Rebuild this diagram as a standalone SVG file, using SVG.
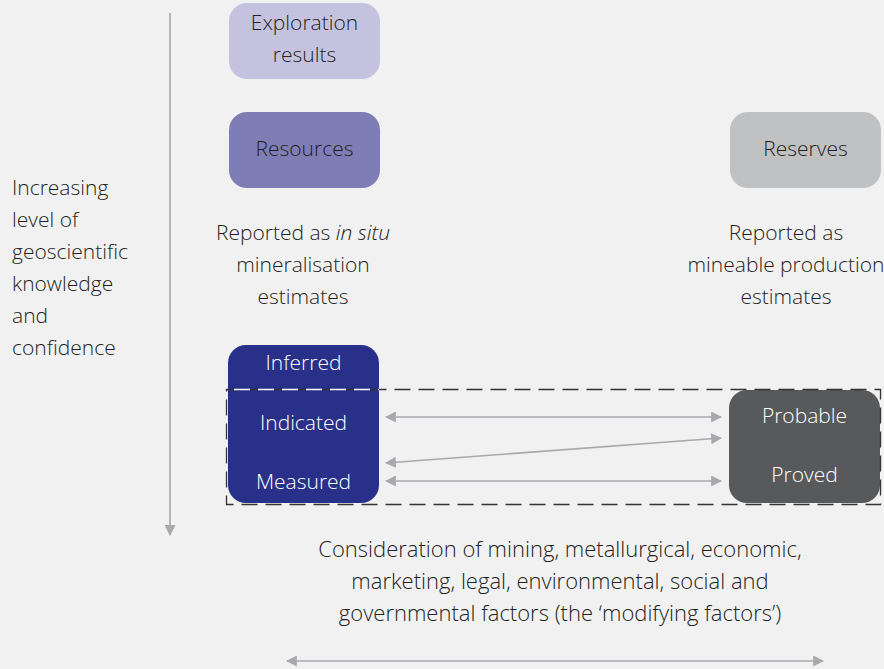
<svg xmlns="http://www.w3.org/2000/svg" width="884" height="669" viewBox="0 0 884 669">
<defs>
<style>
text{font-family:"Open Sans","Liberation Sans",sans-serif;font-weight:300;font-size:21px;fill:#231f20}
.c{text-anchor:middle}
.w{fill:#ffffff}
.b{font-size:22px}
.ln{stroke:#a7a9ac;stroke-width:1.6;fill:none}
</style>
<marker id="ah" viewBox="0 0 10 10" refX="9" refY="5" markerWidth="11" markerHeight="11" markerUnits="userSpaceOnUse" orient="auto-start-reverse">
<path d="M0,0 L10,5 L0,10 z" fill="#a7a9ac"/>
</marker>
</defs>
<rect x="0" y="0" width="884" height="669" fill="#f1f1f1"/>
<g id="axis">
<line class="ln" x1="170" y1="13" x2="170" y2="535" marker-end="url(#ah)"/>
<text x="12" y="195">Increasing</text>
<text x="12" y="227">level of</text>
<text x="12" y="259">geoscientific</text>
<text x="12" y="291">knowledge</text>
<text x="12" y="323">and</text>
<text x="12" y="355">confidence</text>
</g>
<g id="exploration">
<rect x="229" y="3" width="151" height="76" rx="18" fill="#c5c2e0"/>
<text class="c" x="304.5" y="30">Exploration</text>
<text class="c" x="304.5" y="62">results</text>
</g>
<g id="resources">
<rect x="229" y="112" width="151" height="76" rx="18" fill="#7f7db5"/>
<text class="c" x="304.5" y="156">Resources</text>
</g>
<g id="reserves">
<rect x="730" y="112" width="151" height="76" rx="18" fill="#c0c1c3"/>
<text class="c" x="805.5" y="156">Reserves</text>
</g>
<g id="resources-note">
<text class="c" x="303" y="240">Reported as <tspan font-style="italic">in situ</tspan></text>
<text class="c" x="303" y="272">mineralisation</text>
<text class="c" x="303" y="304">estimates</text>
</g>
<g id="reserves-note">
<text class="c" x="786" y="240">Reported as</text>
<text class="c" x="786" y="272">mineable production</text>
<text class="c" x="786" y="304">estimates</text>
</g>
<g id="resource-categories">
<rect x="228" y="345" width="151" height="158" rx="18" fill="#28308a"/>
<text class="c w" x="303.5" y="370">Inferred</text>
<text class="c w" x="303.5" y="430">Indicated</text>
<text class="c w" x="303.5" y="489">Measured</text>
</g>
<g id="reserve-categories">
<rect x="729" y="390" width="151" height="113" rx="18" fill="#58595b"/>
<text class="c w" x="804.5" y="423">Probable</text>
<text class="c w" x="804.5" y="482">Proved</text>
</g>
<g id="modifying-factors">
<rect x="226.5" y="389.5" width="654" height="115" fill="none" stroke="#333333" stroke-width="1.3" stroke-dasharray="16,8"/>
<line x1="226" y1="389.5" x2="379" y2="389.5" stroke="#ffffff" stroke-width="1.3" stroke-dasharray="16,8" stroke-dashoffset="-8"/>
<text class="c b" x="560" y="557">Consideration of mining, metallurgical, economic,</text>
<text class="c b" x="560" y="589">marketing, legal, environmental, social and</text>
<text class="c b" x="560" y="621">governmental factors (the ‘modifying factors’)</text>
</g>
<g id="connectors">
<line class="ln" x1="386" y1="417" x2="721" y2="417" marker-start="url(#ah)" marker-end="url(#ah)"/>
<line class="ln" x1="386" y1="463" x2="721" y2="438" marker-start="url(#ah)" marker-end="url(#ah)"/>
<line class="ln" x1="386" y1="481" x2="721" y2="481" marker-start="url(#ah)" marker-end="url(#ah)"/>
<line class="ln" x1="287" y1="661" x2="823" y2="661" marker-start="url(#ah)" marker-end="url(#ah)"/>
</g>
</svg>
